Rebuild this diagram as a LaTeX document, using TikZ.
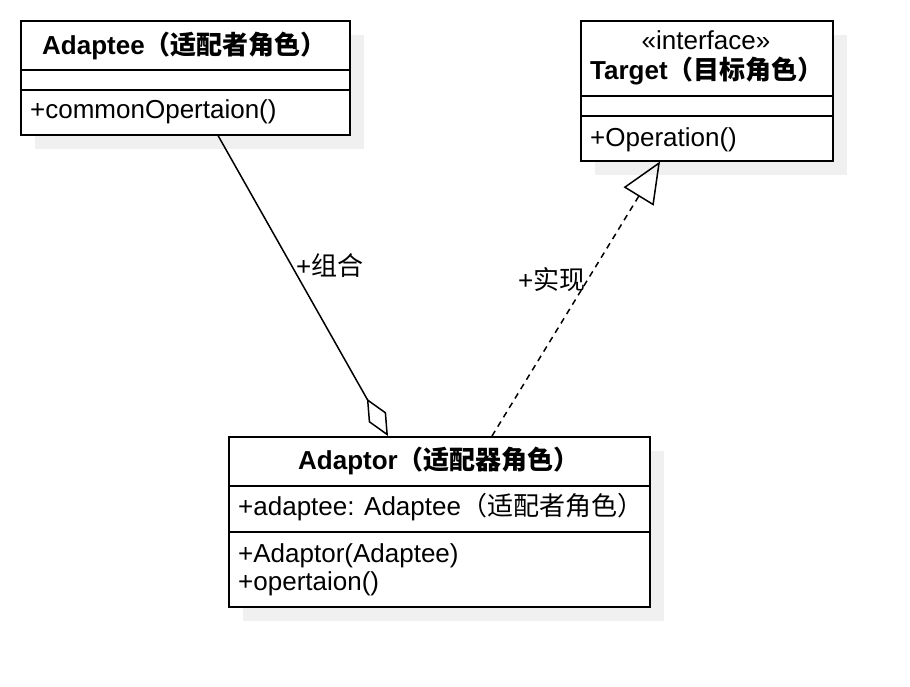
\documentclass[tikz,border=0pt]{standalone}
\usepackage{fontspec}
\setmainfont{Liberation Sans}
\newfontfamily\cjk{Noto Sans CJK SC}
\newcommand{\zh}[1]{{\cjk #1}}
\usetikzlibrary{arrows.meta,shadows}

\begin{document}
\begin{tikzpicture}[x=1pt, y=-1pt, font=\fontsize{26}{31}\selectfont, classbox/.style={draw, line width=1.5pt, fill=white, anchor=north west, inner sep=0pt, drop shadow={shadow xshift=14pt, shadow yshift=-14pt, fill=black!6, opacity=1}},   member/.style={anchor=base west, inner sep=0pt},   title/.style={anchor=base west, inner sep=0pt, font=\fontsize{26}{31}\selectfont\bfseries},   rel/.style={line width=1.5pt}]
        \useasboundingbox (0,0) rectangle (910,686);
        % class boxes
        \node[classbox, minimum width=329pt, minimum height=114pt] (adaptee) at (20,20) {};
        \node[classbox, minimum width=252pt, minimum height=140pt] (target) at (580,20) {};
        \node[classbox, minimum width=421pt, minimum height=170pt] (adaptor) at (228,436) {};
        \draw[rel] ([yshift=-50pt]adaptee.north west) -- ([yshift=-50pt]adaptee.north east);
        \draw[rel] ([yshift=-70pt]adaptee.north west) -- ([yshift=-70pt]adaptee.north east);
        \draw[rel] ([yshift=-76pt]target.north west) -- ([yshift=-76pt]target.north east);
        \draw[rel] ([yshift=-96pt]target.north west) -- ([yshift=-96pt]target.north east);
        \draw[rel] ([yshift=-50pt]adaptor.north west) -- ([yshift=-50pt]adaptor.north east);
        \draw[rel] ([yshift=-96pt]adaptor.north west) -- ([yshift=-96pt]adaptor.north east);
        % texts
        \node[title] (adapteeName) at (42,54) {Adaptee\zh{\bfseries （适配者角色）}};
        \node[member] (adapteeOp) at (30,118) {+commonOpertaion()};
        \node[anchor=base, inner sep=0pt] (targetStereo) at (706,49) {«interface»};
        \node[title] (targetName) at (590,79) {Target\zh{\bfseries （目标角色）}};
        \node[member] (targetOp) at (590,146) {+Operation()};
        \node[title] (adaptorName) at (298,469) {Adaptor\zh{\bfseries （适配器角色）}};
        \node[member] (adaptorAttr) at (238,515) {+adaptee: Adaptee\zh{（适配者角色）}};
        \node[member] (adaptorCtor) at (238,562) {+Adaptor(Adaptee)};
        \node[member] (adaptorOp) at (238,590) {+opertaion()};
        % relations
        \coordinate (aggFrom) at ([xshift=198pt]adaptee.south west);
        \coordinate (aggTo) at ([xshift=160pt]adaptor.north west);
        \coordinate (implFrom) at ([xshift=264pt]adaptor.north west);
        \coordinate (implTo) at ([xshift=80pt]target.south west);
        \draw[rel, -{Diamond[open, length=43pt, width=20pt]}] (aggFrom) -- (aggTo);
        \draw[rel, dash pattern=on 6pt off 5pt, -{Triangle[open, length=41pt, width=35pt]}] (implFrom) -- (implTo);
        \node[member] (aggLabel) at (296,275) {+\zh{组合}};
        \node[member] (implLabel) at (518,289) {+\zh{实现}};
    \end{tikzpicture}
\end{document}
